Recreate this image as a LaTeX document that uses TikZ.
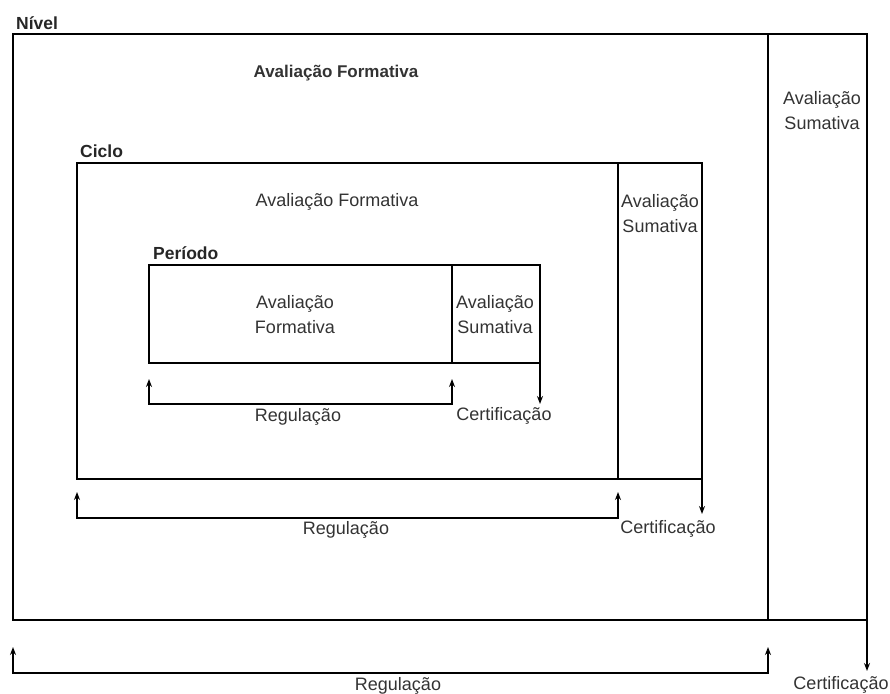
\documentclass[tikz,border=0pt]{standalone}
\usepackage{fontspec}
\setmainfont{Liberation Sans}
\usetikzlibrary{arrows.meta}
\begin{document}
\begin{tikzpicture}[x=1pt,y=-1pt,
  box/.style={line width=1.4pt,line join=miter},
  conn/.style={line width=1.4pt,-{Stealth[length=8pt,width=6pt]}},
  reg/.style={line width=1.4pt,{Stealth[length=8pt,width=6pt]}-{Stealth[length=8pt,width=6pt]}},
  txt/.style={inner sep=0pt,align=center,text=black!80,font=\fontsize{18}{25}\selectfont},
  ttl/.style={inner sep=0pt,anchor=west,text=black!85,font=\fontsize{17.5}{21}\selectfont\bfseries},
  btxt/.style={txt,font=\fontsize{17}{21}\selectfont\bfseries}]
\useasboundingbox (0,0) rectangle (890,693);
% ---------- coordinates
% Nivel
\coordinate (n1) at (13,34);   \coordinate (n2) at (867,620);
\coordinate (nd1) at (768,34); \coordinate (nd2) at (768,620);
\coordinate (nc) at (867,671);
\coordinate (nra) at (13,647); \coordinate (nrb) at (13,673);
\coordinate (nrc) at (768,673); \coordinate (nrd) at (768,647);
% Ciclo
\coordinate (c1) at (77,163);  \coordinate (c2) at (702,479);
\coordinate (cd1) at (618,163); \coordinate (cd2) at (618,479);
\coordinate (cc) at (702,514);
\coordinate (cra) at (77,492); \coordinate (crb) at (77,518);
\coordinate (crc) at (618,518); \coordinate (crd) at (618,492);
% Periodo
\coordinate (p1) at (149,265); \coordinate (p2) at (540,363);
\coordinate (pd1) at (452,265); \coordinate (pd2) at (452,363);
\coordinate (pc) at (540,404);
\coordinate (pra) at (149,379); \coordinate (prb) at (149,404);
\coordinate (prc) at (452,404); \coordinate (prd) at (452,379);
% ---------- boxes
\draw[box] (n1) rectangle (n2);
\draw[box] (nd1) -- (nd2);
\draw[box] (c1) rectangle (c2);
\draw[box] (cd1) -- (cd2);
\draw[box] (p1) rectangle (p2);
\draw[box] (pd1) -- (pd2);
% ---------- certification arrows
\draw[conn] (n2) -- (nc);
\draw[conn] (c2) -- (cc);
\draw[conn] (p2) -- (pc);
% ---------- regulation brackets
\draw[reg] (nra) -- (nrb) -- (nrc) -- (nrd);
\draw[reg] (cra) -- (crb) -- (crc) -- (crd);
\draw[reg] (pra) -- (prb) -- (prc) -- (prd);
% ---------- labels
\node[ttl] (lniv) at (16,23) {Nível};
\node[ttl] (lcic) at (80,151) {Ciclo};
\node[ttl] (lper) at (153,253) {Período};
\node[btxt] (nform) at (336,73) {Avaliação Formativa};
\node[txt] (nsum) at (822,111) {Avaliação\\Sumativa};
\node[txt] (cform) at (337,202) {Avaliação Formativa};
\node[txt] (csum) at (660,214) {Avaliação\\Sumativa};
\node[txt] (pform) at (295,315) {Avaliação\\Formativa};
\node[txt] (psum) at (495,315) {Avaliação\\Sumativa};
\node[txt] (preg) at (298,417) {Regulação};
\node[txt] (pcert) at (504,416) {Certificação};
\node[txt] (creg) at (346,530) {Regulação};
\node[txt] (ccert) at (668,529) {Certificação};
\node[txt] (nreg) at (398,686) {Regulação};
\node[txt] (ncert) at (841,685) {Certificação};
\end{tikzpicture}
\end{document}
